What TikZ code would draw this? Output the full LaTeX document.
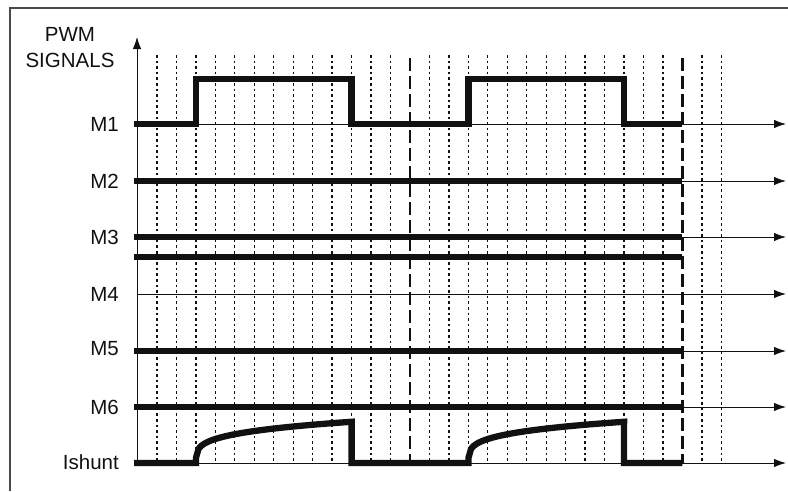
\documentclass[tikz,border=0pt]{standalone}
\usepackage{fontspec}
\setmainfont{Liberation Sans}
\usepackage{tikz}
\usetikzlibrary{arrows.meta}
\definecolor{ink}{HTML}{111111}
\definecolor{framegray}{HTML}{4A4A4A}
\tikzset{
  >={Latex[length=12pt,width=8.5pt]},
  frameline/.style={draw=framegray,line width=1.4pt},
  axisline/.style={->,draw=ink,line width=0.9pt},
  trace/.style={draw=ink,line width=6.3pt},
  gridline/.style={draw=ink,line width=1.3pt,dash pattern=on 2.6pt off 3pt},
  periodline/.style={draw=ink,line width=2.6pt,dash pattern=on 13pt off 5pt},
  siglabel/.style={anchor=east,inner sep=0pt,text=ink,font=\fontsize{20.5}{26}\selectfont}
}

\begin{document}
\begin{tikzpicture}[x=1pt,y=-1pt]
  \useasboundingbox (0,0) rectangle (788,491);
  \draw[frameline] (788,8) -- (10,8) -- (10,491);
  % time grid
  \foreach \k in {0,...,12,14,15,...,26,28,29}
    \draw[gridline] ({157+19.46*\k},55) -- ({157+19.46*\k},463);
  \foreach \k in {13,27}
    \draw[periodline] ({157+19.46*\k},58) -- ({157+19.46*\k},463);
  % axes
  \draw[axisline] (137,463) -- (137,37);
  \foreach \y in {124,181,237,294,351,407,463}
    \draw[axisline] (137,\y) -- (786,\y);
  % signals
  \draw[trace] (134,124) -- (195.9,124) -- (195.9,79) -- (351.6,79) -- (351.6,124)
    -- (468.4,124) -- (468.4,79) -- (624.0,79) -- (624.0,124) -- (682.4,124);
  \foreach \y in {181,237,257,351,407}
    \draw[trace] (134,\y) -- (682.4,\y);
  \draw[trace] (134,463) -- (195.9,463)
    -- plot[domain=0.05:155.7,samples=60] ({195.9+\x},{463-11.1*\x^0.26})
    -- (351.6,463) -- (468.4,463)
    -- plot[domain=0.05:155.7,samples=60] ({468.4+\x},{463-11.1*\x^0.26})
    -- (624.0,463) -- (682.4,463);
  % labels
  \node[siglabel,anchor=center,align=center] (title) at (70,48) {PWM\\SIGNALS};
  \node[siglabel] (m1) at (119,124) {M1};
  \node[siglabel] (m2) at (119,181) {M2};
  \node[siglabel] (m3) at (119,237) {M3};
  \node[siglabel] (m4) at (119,294) {M4};
  \node[siglabel] (m5) at (119,349) {M5};
  \node[siglabel] (m6) at (119,407) {M6};
  \node[siglabel] (ishunt) at (119,462) {Ishunt};
\end{tikzpicture}
\end{document}
